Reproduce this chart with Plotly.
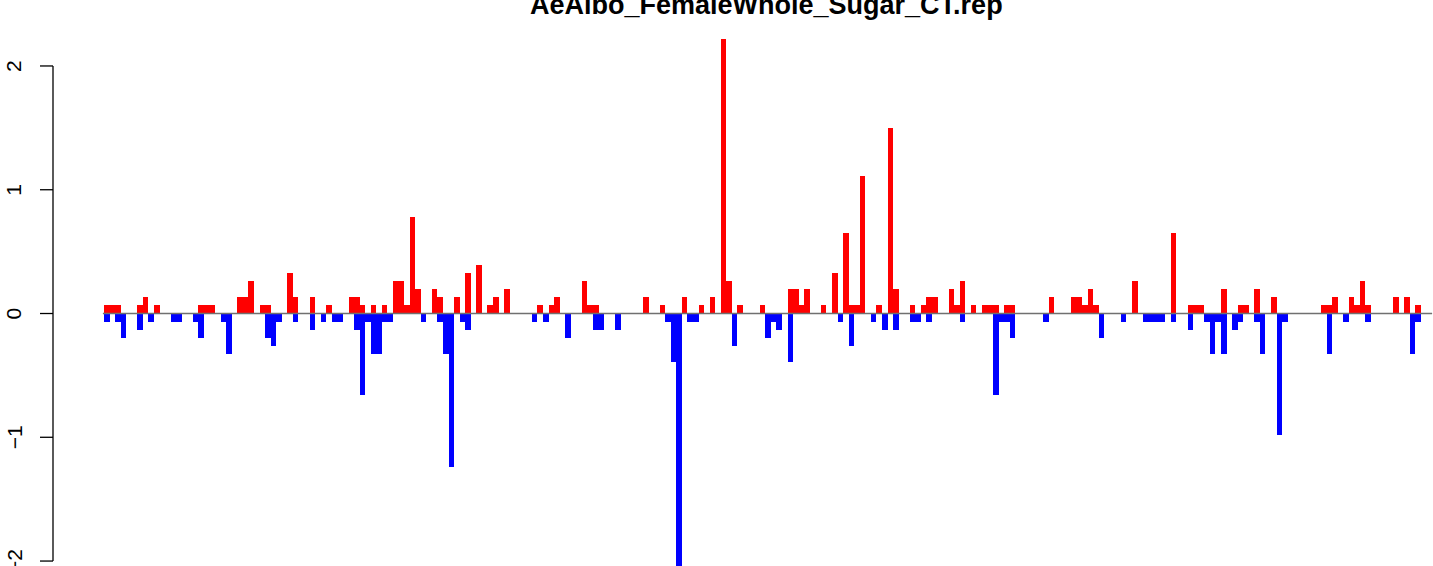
import plotly.graph_objects as go

# ---- data ----
n_bins = 237
title_text = "AeAlbo_FemaleWhole_Sugar_CT.rep"

gain_idx = [0, 1, 2, 6, 7, 9, 17, 18, 19, 24, 25, 26, 28, 29, 33, 34, 37, 40, 44, 45, 46, 48, 50,
            52, 53, 54, 55, 56, 59, 60, 63, 65, 67, 69, 70, 72, 78, 80, 81, 86, 87, 88, 97, 100,
            104, 107, 109, 111, 112, 114, 118, 123, 124, 125, 126, 129, 131, 133, 134, 135, 136,
            139, 141, 142, 145, 147, 148, 149, 152, 153, 154, 156, 158, 159, 160, 162, 163, 170,
            174, 175, 176, 177, 178, 185, 192, 195, 196, 197, 201, 204, 205, 207, 210, 219, 220,
            221, 224, 225, 226, 227, 232, 234, 236]
gain_val = [0.067, 0.067, 0.067, 0.067, 0.132, 0.067, 0.067, 0.067, 0.067, 0.132, 0.132, 0.261,
            0.067, 0.067, 0.326, 0.132, 0.132, 0.067, 0.132, 0.132, 0.067, 0.067, 0.067,
            0.261, 0.261, 0.067, 0.778, 0.197, 0.197, 0.132, 0.132, 0.326, 0.39, 0.067, 0.132,
            0.197, 0.067, 0.067, 0.132, 0.261, 0.067, 0.067, 0.132, 0.067,
            0.132, 0.067, 0.132, 2.217, 0.261, 0.067, 0.067, 0.197, 0.197, 0.067, 0.197, 0.067,
            0.326, 0.649, 0.067, 0.067, 1.11,
            0.067, 1.497, 0.197, 0.067, 0.067, 0.132, 0.132, 0.197, 0.067, 0.261, 0.067, 0.067,
            0.067, 0.067, 0.067, 0.067, 0.132,
            0.132, 0.132, 0.067, 0.197, 0.067, 0.261, 0.649, 0.067, 0.067, 0.067, 0.197, 0.067,
            0.067, 0.197, 0.132, 0.067, 0.067,
            0.132, 0.132, 0.067, 0.261, 0.067, 0.132, 0.132, 0.067]

loss_idx = [0, 2, 3, 6, 8, 12, 13, 16, 17, 21, 22, 29, 30, 31, 34, 37, 39, 41, 42, 45, 46, 47,
            48, 49, 50, 51, 57, 60, 61, 62, 64, 65, 77, 79, 83, 88, 89, 92, 101, 102, 103, 105,
            106, 113, 119, 120, 121, 123, 132, 134, 138, 140, 142, 145, 146, 148, 154, 160, 161,
            162, 163, 169, 179, 183, 187, 188, 189, 190, 192, 195, 198, 199, 200, 201, 203, 204,
            207, 208, 211, 212, 220, 223, 227, 235, 236]
loss_val = [-0.067, -0.067, -0.197, -0.132, -0.067, -0.067, -0.067, -0.067, -0.197, -0.067,
            -0.326, -0.197, -0.261, -0.067, -0.067, -0.132, -0.067, -0.067, -0.067, -0.132,
            -0.66, -0.067,
            -0.326, -0.326, -0.067, -0.067, -0.067, -0.067, -0.326, -1.242, -0.067, -0.132,
            -0.067, -0.067, -0.197, -0.132, -0.132, -0.132, -0.067, -0.39, -2.1, -0.067,
            -0.067, -0.261, -0.197, -0.067, -0.132, -0.39, -0.067, -0.261, -0.067, -0.132,
            -0.132, -0.067, -0.067, -0.067, -0.067, -0.66, -0.067,
            -0.067, -0.197, -0.067, -0.197, -0.067, -0.067, -0.067, -0.067, -0.067, -0.067,
            -0.132, -0.067, -0.326, -0.067, -0.326, -0.132, -0.067,
            -0.067, -0.326, -0.983, -0.067, -0.326, -0.067, -0.067, -0.326, -0.067]

y_ticks = [-2, -1, 0, 1, 2]
y_tick_labels = ["\u22122", "\u22121", "0", "1", "2"]

# ---- figure ----
W, H = 1433, 566
x_range = [-18.715, 239.16]
y_range = [-2.040, 2.533]

fig = go.Figure()
fig.add_trace(go.Bar(x=[i + 0.5 for i in gain_idx], y=gain_val, width=1.0,
                     marker=dict(color="#FF0000", line=dict(width=0)), showlegend=False,
                     hoverinfo="skip"))
fig.add_trace(go.Bar(x=[i + 0.5 for i in loss_idx], y=loss_val, width=1.0,
                     marker=dict(color="#0000FF", line=dict(width=0)), showlegend=False,
                     hoverinfo="skip"))

axis_x = 53 / W
tick_x0 = 40 / W
shapes = [
    dict(type="line", xref="x", yref="y", x0=-0.2, x1=239.0, y0=0, y1=0,
         line=dict(color="#707070", width=1.4), layer="above"),
    dict(type="line", xref="paper", yref="y", x0=axis_x, x1=axis_x,
         y0=min(y_ticks), y1=max(y_ticks), line=dict(color="black", width=1.3)),
]
annotations = []
for t, lab in zip(y_ticks, y_tick_labels):
    shapes.append(dict(type="line", xref="paper", yref="y", x0=tick_x0, x1=axis_x,
                       y0=t, y1=t, line=dict(color="black", width=1.3)))
    annotations.append(dict(x=14 / W, y=t, xref="paper", yref="y", text=lab,
                            showarrow=False, textangle=-90, xanchor="center",
                            yanchor="middle",
                            font=dict(family="Liberation Sans, Arial", size=21,
                                      color="black")))
annotations.append(dict(x=767 / W, y=1 - 21.5 / H, xref="paper", yref="paper",
                        text="<b>" + title_text + "</b>", showarrow=False,
                        xanchor="center", yanchor="bottom",
                        font=dict(family="Liberation Sans, Arial", size=27,
                                  color="black")))

fig.update_layout(
    width=W, height=H, autosize=False,
    margin=dict(l=0, r=0, t=0, b=0, pad=0),
    paper_bgcolor="white", plot_bgcolor="white",
    barmode="relative", bargap=0,
    hovermode=False,
    xaxis=dict(range=x_range, visible=False, fixedrange=True),
    yaxis=dict(range=y_range, visible=False, fixedrange=True),
    shapes=shapes, annotations=annotations,
)

fig.write_html(
    "out.html",
    config={"displayModeBar": False, "staticPlot": True},
    post_script="document.documentElement.style.margin='0';"
                "document.body.style.margin='0';document.body.style.padding='0';"
                "document.body.style.overflow='hidden';",
)
